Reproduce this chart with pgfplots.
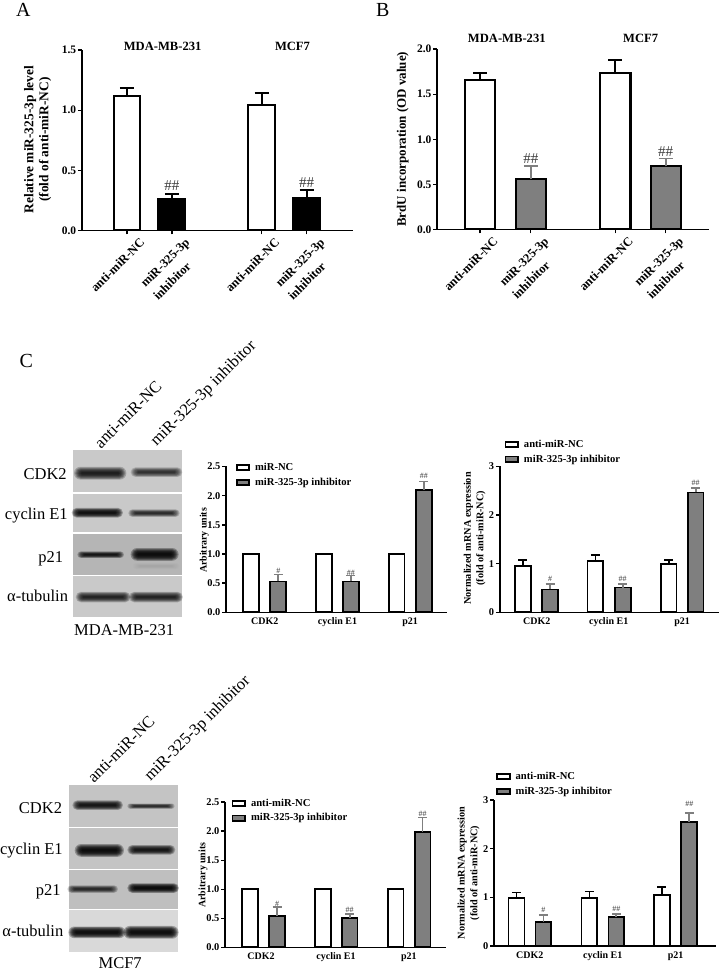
\documentclass[border=0pt]{standalone}
\usepackage{fontspec}
\setmainfont{Liberation Serif}
\usepackage{pgfplots}
\pgfplotsset{compat=1.18}
\definecolor{bargray}{HTML}{7F7F7F}
\definecolor{hashgray}{HTML}{3C3C3C}
\newcommand\band[5]{%
  \foreach \k in {0,...,7}{%
    \pgfmathsetmacro\dy{(#4)/2*(1.6-0.19*\k)}%
    \pgfmathsetmacro\dx{4.5-1.0*\k}%
    \pgfmathsetmacro\op{#5*0.76}%
    \fill[black,opacity=\op,rounded corners=\dy pt] ({#1-\dx},{#3-\dy}) rectangle ({#2+\dx},{#3+\dy});%
  }%
}
\tikzset{hash/.style={font=\fontsize{#1}{#1}\selectfont,text=hashgray,inner sep=0pt}}
\pgfplotsset{
  panel/.style={
    scale only axis, axis lines=left, axis line style={-,line width=1.6pt},
    enlargelimits=false, clip=false, tick align=outside,
    major tick length=4pt,
    every tick/.style={black,line width=1.4pt},
    tick label style={font=\bfseries\fontsize{#1}{#1}\selectfont,inner sep=1.5pt},
    legend style={draw=none,fill=none,inner sep=0pt,outer sep=0pt,
      font=\bfseries\fontsize{10.6}{12}\selectfont,cells={anchor=west},row sep=2pt},
    legend image code/.code={\draw[line width=1.8pt,##1] (0pt,-2.6pt) rectangle (12.5pt,2.6pt);\path[draw=none,fill=none] (16.5pt,2.6pt) rectangle (16.5pt,-2.6pt);},
  },
  wb/.style={ybar,bar shift=0pt,draw=black,fill=white,line width=#1,
    error bars/.cd,y dir=plus,y explicit,
    error bar style={line width=1.8pt,black},
    error mark options={line width=1.8pt,black,mark size=\capsize,rotate=90}},
  gb/.style={ybar,bar shift=0pt,draw=black,fill=#1,line width=\barlw,
    error bars/.cd,y dir=plus,y explicit,
    error bar style={line width=1.8pt,#1},
    error mark options={line width=1.8pt,#1,mark size=\capsize,rotate=90}},
  rotlabels/.style={
    x tick label style={font=\bfseries\fontsize{12.5}{18}\selectfont,rotate=45,anchor=north east,align=left,xshift=8.5pt,yshift=-9pt}},
  flatx/.style={
    x tick label style={font=\bfseries\fontsize{10}{10}\selectfont,yshift=0pt},
    x tick style={draw=none},major x tick style={draw=none}},
}
\def\capsize{7pt}
\def\barlw{2.1pt}
\begin{document}
\begin{tikzpicture}
\path (0pt,0pt) rectangle (720pt,971pt);

% ---- A
\begin{axis}[panel=11.5,at={(81.7pt,741.3pt)},anchor=south west,width=271pt,height=180.4pt,
  xmin=81.7,xmax=352.7,ymin=0,ymax=1.5,bar width=26.6pt,rotlabels,
  ytick={0,0.5,1,1.5},yticklabels={0.0,0.5,1.0,1.5},
  xtick={126.7,171.7,261.7,306.7},
  xticklabels={anti-miR-NC,{miR-325-3p\\inhibitor},anti-miR-NC,{miR-325-3p\\inhibitor}},
  ylabel={Relative miR-325-3p level\\(fold of anti-miR-NC)},
  y label style={font=\bfseries\fontsize{13.4}{15}\selectfont,align=center,at={(axis description cs:-0.163,0.504)},anchor=center}]
\addplot[wb=2.1pt] coordinates {(126.7,1.115) +- (0,0.072) (261.7,1.043) +- (0,0.102)};
\addplot[gb=black] coordinates {(171.7,0.26) +- (0,0.04) (306.7,0.272) +- (0,0.063)};
\node[hash=15] at (axis cs:171.7,0.369) {\#\#};
\node[hash=15] at (axis cs:306.7,0.394) {\#\#};
\node[font=\bfseries\fontsize{12.6}{12}\selectfont] at (axis cs:162.5,1.535) {MDA-MB-231};
\node[font=\bfseries\fontsize{12.6}{12}\selectfont] at (axis cs:292.5,1.535) {MCF7};
\end{axis}

% ---- B
\begin{axis}[panel=11.5,at={(437.3pt,742.3pt)},anchor=south west,width=272pt,height=180.4pt,
  xmin=437.3,xmax=709.3,ymin=0,ymax=2,bar width=30.2pt,rotlabels,
  ytick={0,0.5,1,1.5,2},yticklabels={0.0,0.5,1.0,1.5,2.0},
  xtick={480.3,531,615.7,666},
  xticklabels={anti-miR-NC,{miR-325-3p\\inhibitor},anti-miR-NC,{miR-325-3p\\inhibitor}},
  ylabel={BrdU incorporation (OD value)},
  y label style={font=\bfseries\fontsize{13}{15}\selectfont,at={(axis description cs:-0.127,0.5)},anchor=center}]
\addplot[wb=2.1pt] coordinates {(480.3,1.66) +- (0,0.074) (615.7,1.737) +- (0,0.145)};
\addplot[gb=bargray] coordinates {(531,0.555) +- (0,0.151) (666,0.70) +- (0,0.087)};
\node[hash=15] at (axis cs:531,0.787) {\#\#};
\node[hash=15] at (axis cs:666,0.865) {\#\#};
\node[font=\bfseries\fontsize{12.6}{12}\selectfont] at (axis cs:507,2.117) {MDA-MB-231};
\node[font=\bfseries\fontsize{12.6}{12}\selectfont] at (axis cs:641,2.117) {MCF7};
\end{axis}

\def\capsize{4.5pt}
\def\barlw{1.8pt}
% ---- C top middle
\begin{axis}[panel=10.4,flatx,at={(226pt,359pt)},anchor=south west,width=221.3pt,height=146pt,
  xmin=226,xmax=447.3,ymin=0,ymax=2.5,bar width=15.9pt,
  ytick={0,0.5,1,1.5,2,2.5},yticklabels={0.0,0.5,1.0,1.5,2.0,2.5},
  xtick={264.7,337.5,410.3},xticklabels={CDK2,cyclin E1,p21},
  ylabel={Arbitrary units},
  y label style={font=\bfseries\fontsize{9.9}{12}\selectfont,at={(axis description cs:-0.099,0.493)},anchor=center},
  legend style={at={(0.044,1.037)},anchor=north west}]
\addplot[wb=1.8pt] coordinates {(251,1) (324,1) (396.7,1)};
\addlegendentry{miR-NC}
\addplot[gb=bargray] coordinates {(278.3,0.53) +- (0,0.12) (351,0.53) +- (0,0.10) (424,2.10) +- (0,0.143)};
\addlegendentry{miR-325-3p inhibitor}
\node[hash=8] at (axis cs:278.3,0.713) {\#};
\node[hash=8] at (axis cs:351,0.668) {\#\#};
\node[hash=8] at (axis cs:424,2.334) {\#\#};
\end{axis}

% ---- C top right
\begin{axis}[panel=10.4,flatx,at={(500pt,359pt)},anchor=south west,width=219pt,height=146pt,
  xmin=500,xmax=719,ymin=0,ymax=3,bar width=15.9pt,
  ytick={0,1,2,3},yticklabels={0,1,2,3},
  xtick={537,609,682.5},xticklabels={CDK2,cyclin E1,p21},
  ylabel={Normalized mRNA expression\\(fold of anti-miR-NC)},
  y label style={font=\bfseries\fontsize{10.2}{12.6}\selectfont,align=center,at={(axis description cs:-0.115,0.507)},anchor=center},
  legend style={at={(0.022,1.196)},anchor=north west}]
\addplot[wb=1.8pt] coordinates {(523,0.945) +- (0,0.135) (595.7,1.05) +- (0,0.135) (669,1.0) +- (0,0.08)};
\addlegendentry{anti-miR-NC}
\addplot[gb=bargray] coordinates {(550.3,0.47) +- (0,0.11) (623,0.51) +- (0,0.07) (696,2.466) +- (0,0.094)};
\addlegendentry{miR-325-3p inhibitor}
\node[hash=8] at (axis cs:550.3,0.678) {\#};
\node[hash=8] at (axis cs:623,0.685) {\#\#};
\node[hash=8] at (axis cs:696,2.664) {\#\#};
\end{axis}

% ---- C bottom middle
\begin{axis}[panel=10.4,flatx,at={(225pt,23.7pt)},anchor=south west,width=221pt,height=145.3pt,
  xmin=225,xmax=446,ymin=0,ymax=2.5,bar width=15.9pt,
  ytick={0,0.5,1,1.5,2,2.5},yticklabels={0.0,0.5,1.0,1.5,2.0,2.5},
  xtick={261,336,409},xticklabels={CDK2,cyclin E1,p21},
  ylabel={Arbitrary units},
  y label style={font=\bfseries\fontsize{9.9}{12}\selectfont,at={(axis description cs:-0.1,0.497)},anchor=center},
  legend style={at={(0.03,1.037)},anchor=north west}]
\addplot[wb=1.8pt] coordinates {(250,1) (322.7,1) (395.7,1)};
\addlegendentry{anti-miR-NC}
\addplot[gb=bargray] coordinates {(277,0.54) +- (0,0.148) (349.7,0.505) +- (0,0.075) (422.7,1.99) +- (0,0.246)};
\addlegendentry{miR-325-3p inhibitor}
\node[hash=8] at (axis cs:277,0.74) {\#};
\node[hash=8] at (axis cs:349.7,0.642) {\#\#};
\node[hash=8] at (axis cs:422.7,2.30) {\#\#};
\end{axis}

% ---- C bottom right
\begin{axis}[panel=10.4,flatx,at={(494.3pt,25pt)},anchor=south west,width=222.4pt,height=146pt,
  xmin=494.3,xmax=716.7,ymin=0,ymax=3,bar width=15.9pt,
  ytick={0,1,2,3},yticklabels={0,1,2,3},
  xtick={530,603,676},xticklabels={CDK2,cyclin E1,p21},
  ylabel={Normalized mRNA expression\\(fold of anti-miR-NC)},
  y label style={font=\bfseries\fontsize{10.2}{12.6}\selectfont,align=center,at={(axis description cs:-0.115,0.5)},anchor=center},
  legend style={at={(0.01,1.206)},anchor=north west}]
\addplot[wb=1.8pt] coordinates {(516.7,0.993) +- (0,0.107) (589.7,0.993) +- (0,0.13) (662.3,1.055) +- (0,0.157)};
\addlegendentry{anti-miR-NC}
\addplot[gb=bargray] coordinates {(543.7,0.50) +- (0,0.137) (616.7,0.59) +- (0,0.067) (689.7,2.548) +- (0,0.192)};
\addlegendentry{miR-325-3p inhibitor}
\node[hash=8] at (axis cs:543.7,0.74) {\#};
\node[hash=8] at (axis cs:616.7,0.76) {\#\#};
\node[hash=8] at (axis cs:689.7,2.918) {\#\#};
\end{axis}

% ---- text and blots, in image pixels
\begin{scope}[x=1pt,y=-1pt,yshift=971pt]
\tikzset{blot/.style={font=\fontsize{16.5}{17}\selectfont,inner sep=0pt}}
\node[font=\fontsize{20}{20}\selectfont] at (23,9) {A};
\node[font=\fontsize{20}{20}\selectfont] at (383,9) {B};
\node[font=\fontsize{20}{20}\selectfont] at (26,360) {C};

% MDA-MB-231 blot
\fill[black!21] (72.7,450) rectangle (182,491.7);
\fill[black!21] (72.7,493.3) rectangle (182,531.7);
\fill[black!29] (72.7,533.3) rectangle (182,575);
\fill[black!21] (72.7,576) rectangle (182,616.7);
\band{78.3}{121.7}{472.7}{8}{0.27}
\band{135}{177.7}{471.7}{6}{0.2}
\band{76}{118.3}{512.3}{6}{0.33}
\band{132.7}{175}{512.7}{4.6}{0.22}
\band{81.7}{119.3}{554.3}{4}{0.3}
\band{135}{174}{554}{8}{0.36}
\band{137}{175}{565.7}{4}{0.012}
\band{80}{126}{596.7}{6.6}{0.25}
\band{133.3}{178.3}{596.7}{6.6}{0.25}
\node[blot,anchor=east] at (66.7,474) {CDK2};
\node[blot,anchor=east] at (67.7,515) {cyclin E1};
\node[blot,anchor=east] at (63,558) {p21};
\node[blot,anchor=east] at (68,596) {α-tubulin};
\node[blot] at (124,630) {MDA-MB-231};
\node[blot,anchor=south west,rotate=45] at (101,449) {anti-miR-NC};
\node[blot,anchor=south west,rotate=45] at (159,449) {miR-325-3p inhibitor};

% MCF7 blot
\fill[black!23] (69,785) rectangle (178,826.7);
\fill[black!23] (69,827.7) rectangle (178,869);
\fill[black!25] (69,870) rectangle (178,908.7);
\fill[black!15] (69,910) rectangle (178,951.7);
\band{76.7}{118.3}{805}{6}{0.3}
\band{131.7}{170}{806}{3.3}{0.22}
\band{79}{119.3}{850.3}{8}{0.36}
\band{131.7}{170.7}{849.7}{6}{0.3}
\band{71.7}{113.3}{889}{4.6}{0.22}
\band{131.7}{174.3}{888}{6}{0.36}
\band{72.7}{120.7}{932.3}{7.3}{0.36}
\band{127.7}{174}{932.3}{8}{0.36}
\node[blot,anchor=east] at (62,808) {CDK2};
\node[blot,anchor=east] at (62.7,850) {cyclin E1};
\node[blot,anchor=east] at (60.7,892) {p21};
\node[blot,anchor=east] at (63.3,931) {α-tubulin};
\node[blot] at (120,963) {MCF7};
\node[blot,anchor=south west,rotate=45] at (94,784) {anti-miR-NC};
\node[blot,anchor=south west,rotate=45] at (153,784) {miR-325-3p inhibitor};
\end{scope}
\end{tikzpicture}
\end{document}
